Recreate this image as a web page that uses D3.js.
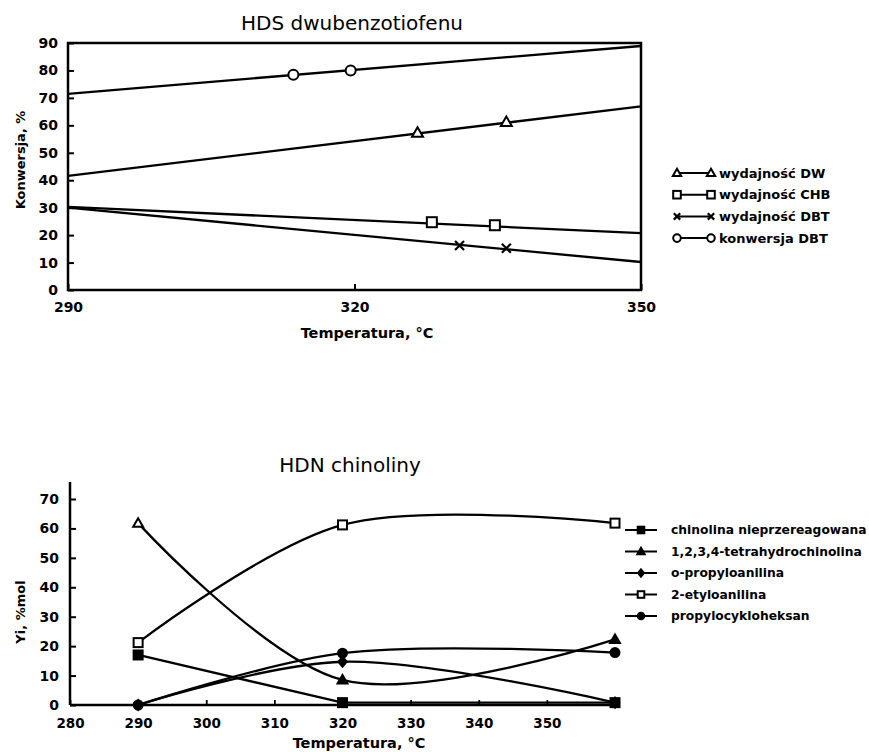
<!DOCTYPE html>
<html><head><meta charset="utf-8">
<script src="https://cdn.jsdelivr.net/npm/d3@7"></script>
<style>
body{margin:0;background:#fff}
svg{display:block}
text{font-family:"DejaVu Sans",sans-serif;fill:#000}
</style></head>
<body>
<svg id="c" width="869" height="752"></svg>
<script>
// ---------- DATA: HDS dwubenzotiofenu ----------
const hdsTitle = "HDS dwubenzotiofenu";
const hdsXTicks = [290, 320, 350];
const hdsYTicks = [0, 10, 20, 30, 40, 50, 60, 70, 80, 90];
const hdsLineTemps = [290, 350];
const dwLine = [41.6, 66.9];
const dwTemps = [326.6, 335.9];
const dwValues = [57.3, 61.2];
const chbLine = [30.3, 20.7];
const chbTemps = [328.1, 334.7];
const chbValues = [24.7, 23.6];
const dbtLine = [30.0, 10.2];
const dbtTemps = [331.0, 335.9];
const dbtValues = [16.2, 15.2];
const convLine = [71.5, 88.9];
const convTemps = [313.6, 319.6];
const convValues = [78.4, 80.0];
const hdsLegend = ["wydajność DW", "wydajność CHB", "wydajność DBT", "konwersja DBT"];

// ---------- DATA: HDN chinoliny ----------
const hdnTitle = "HDN chinoliny";
const hdnXTicks = [280, 290, 300, 310, 320, 330, 340, 350];
const hdnYTicks = [0, 10, 20, 30, 40, 50, 60, 70];
const hdnTemps = [290, 320, 360];
const chinolina = [17.0, 0.8, 0.8];
const tetrahydro = [61.8, 8.5, 22.3];
const propyloanilina = [0.0, 14.7, 0.8];
const etyloanilina = [21.2, 61.2, 61.8];
const propylocykloheksan = [0.0, 17.6, 17.8];
const hdnLegend = ["chinolina nieprzereagowana", "1,2,3,4-tetrahydrochinolina", "o-propyloanilina", "2-etyloanilina", "propylocykloheksan"];

const svg = d3.select("#c");

function marker(g, type, x, y, s, filled) {
  const fill = filled ? "#000" : "#fff";
  if (type === "circle") {
    g.append("circle").attr("cx", x).attr("cy", y).attr("r", s).attr("fill", fill).attr("stroke", "#000").attr("stroke-width", 2);
  } else if (type === "square") {
    g.append("rect").attr("x", x - s).attr("y", y - s).attr("width", 2 * s).attr("height", 2 * s).attr("fill", fill).attr("stroke", "#000").attr("stroke-width", 2);
  } else if (type === "triangle") {
    g.append("path").attr("d", `M${x},${y - s * 1.1}L${x + s * 1.1},${y + s * 0.8}L${x - s * 1.1},${y + s * 0.8}Z`).attr("fill", fill).attr("stroke", "#000").attr("stroke-width", 2);
  } else if (type === "diamond") {
    g.append("path").attr("d", `M${x},${y - s * 1.2}L${x + s},${y}L${x},${y + s * 1.2}L${x - s},${y}Z`).attr("fill", fill).attr("stroke", "#000").attr("stroke-width", 1.5);
  } else if (type === "x") {
    g.append("path").attr("d", `M${x - s},${y - s}L${x + s},${y + s}M${x - s},${y + s}L${x + s},${y - s}`).attr("stroke", "#000").attr("stroke-width", 2.2);
  }
}

// ================= TOP CHART =================
const xT = d3.scaleLinear().domain([290, 350]).range([68, 641]);
const yT = d3.scaleLinear().domain([0, 90]).range([290, 43]);
const gT = svg.append("g");

gT.append("text").attr("x", 352).attr("y", 30).attr("text-anchor", "middle").style("font-size", "20px").text(hdsTitle);

gT.append("rect").attr("x", xT(290)).attr("y", yT(90)).attr("width", xT(350) - xT(290)).attr("height", yT(0) - yT(90))
  .attr("fill", "none").attr("stroke", "#000").attr("stroke-width", 2.5);

const yAxT = gT.append("g").attr("transform", `translate(${xT(290)},0)`)
  .call(d3.axisLeft(yT).tickValues(hdsYTicks).tickSize(-6).tickPadding(10).tickFormat(d3.format("d")));
yAxT.select(".domain").remove();
yAxT.selectAll("line").attr("stroke-width", 2);
yAxT.selectAll("text").style("font-size", "14px").style("font-weight", "bold").style("font-family", "DejaVu Sans");

const xAxT = gT.append("g").attr("transform", `translate(0,${yT(0)})`)
  .call(d3.axisBottom(xT).tickValues(hdsXTicks).tickSize(-6).tickPadding(12).tickFormat(d3.format("d")));
xAxT.select(".domain").remove();
xAxT.selectAll("line").attr("stroke-width", 2);
xAxT.selectAll("text").style("font-size", "14px").style("font-weight", "bold").style("font-family", "DejaVu Sans");

gT.append("text").attr("x", 367).attr("y", 338).attr("text-anchor", "middle").style("font-size", "14.5px").style("font-weight", "bold").text("Temperatura, °C");
gT.append("text").attr("transform", "translate(25,160) rotate(-90)").attr("text-anchor", "middle").style("font-size", "13px").style("font-weight", "bold").text("Konwersja, %");

const hdsSeries = [
  { line: dwLine, temps: dwTemps, vals: dwValues, m: "triangle" },
  { line: chbLine, temps: chbTemps, vals: chbValues, m: "square" },
  { line: dbtLine, temps: dbtTemps, vals: dbtValues, m: "x" },
  { line: convLine, temps: convTemps, vals: convValues, m: "circle" }
];
const lineT = d3.line().x(d => xT(d[0])).y(d => yT(d[1]));
hdsSeries.forEach(s => {
  gT.append("path").attr("d", lineT(hdsLineTemps.map((t, i) => [t, s.line[i]])))
    .attr("fill", "none").attr("stroke", "#000").attr("stroke-width", 2.3);
});
hdsSeries.forEach(s => {
  s.temps.forEach((t, i) => marker(gT, s.m, xT(t), yT(s.vals[i]), s.m === "x" ? 4.5 : 5, false));
});

hdsLegend.forEach((name, i) => {
  const y = 173 + i * 21.7;
  const g = gT.append("g");
  g.append("line").attr("x1", 677).attr("x2", 711).attr("y1", y).attr("y2", y).attr("stroke", "#000").attr("stroke-width", 2);
  const m = hdsSeries[i].m;
  marker(g, m, 677, y, m === "x" ? 3.2 : 3.8, false);
  marker(g, m, 711, y, m === "x" ? 3.2 : 3.8, false);
  g.append("text").attr("x", 719).attr("y", y + 4.5).style("font-size", "13px").style("font-weight", "bold").text(name);
});

// ================= BOTTOM CHART =================
const xB = d3.scaleLinear().domain([280, 360]).range([70, 615]);
const yB = d3.scaleLinear().domain([0, 70]).range([705, 499]);
const gB = svg.append("g");

gB.append("text").attr("x", 350).attr("y", 472).attr("text-anchor", "middle").style("font-size", "20px").text(hdnTitle);

gB.append("line").attr("x1", xB(280)).attr("x2", xB(280)).attr("y1", yB(0)).attr("y2", yB(75.8)).attr("stroke", "#000").attr("stroke-width", 2.5);
gB.append("line").attr("x1", xB(280)).attr("x2", xB(360)).attr("y1", yB(0)).attr("y2", yB(0)).attr("stroke", "#000").attr("stroke-width", 2.5);

const yAxB = gB.append("g").attr("transform", `translate(${xB(280)},0)`)
  .call(d3.axisLeft(yB).tickValues(hdnYTicks).tickSize(-6).tickPadding(11).tickFormat(d3.format("d")));
yAxB.select(".domain").remove();
yAxB.selectAll("line").attr("stroke-width", 2);
yAxB.selectAll("text").style("font-size", "14px").style("font-weight", "bold").style("font-family", "DejaVu Sans");

const xAxB = gB.append("g").attr("transform", `translate(0,${yB(0)})`)
  .call(d3.axisBottom(xB).tickValues(hdnXTicks).tickSize(-5).tickPadding(13).tickFormat(d3.format("d")));
xAxB.select(".domain").remove();
xAxB.selectAll("line").attr("stroke-width", 1.8);
xAxB.selectAll("text").style("font-size", "13.5px").style("font-weight", "bold").style("font-family", "DejaVu Sans");

gB.append("text").attr("x", 359).attr("y", 748).attr("text-anchor", "middle").style("font-size", "14.5px").style("font-weight", "bold").text("Temperatura, °C");
gB.append("text").attr("transform", "translate(25,612) rotate(-90)").attr("text-anchor", "middle").style("font-size", "13px").style("font-weight", "bold").text("Yi, %mol");

const hdnSeries = [
  { vals: propyloanilina, m: "diamond", filled: true, curve: d3.curveCatmullRom },
  { vals: chinolina, m: "square", filled: true, curve: d3.curveLinear },
  { vals: tetrahydro, m: "triangle", filled: true, curve: d3.curveCatmullRom },
  { vals: etyloanilina, m: "square", filled: false, curve: d3.curveCatmullRom },
  { vals: propylocykloheksan, m: "circle", filled: true, curve: d3.curveCatmullRom }
];
hdnSeries.forEach(s => {
  const ln = d3.line().x(d => xB(d[0])).y(d => yB(d[1])).curve(s.curve);
  gB.append("path").attr("d", ln(hdnTemps.map((t, i) => [t, s.vals[i]])))
    .attr("fill", "none").attr("stroke", "#000").attr("stroke-width", 2.3);
});
hdnSeries.forEach(s => {
  hdnTemps.forEach((t, i) => {
    const filled = s.filled && !(s.m === "triangle" && i === 0);
    marker(gB, s.m, xB(t), yB(s.vals[i]), 4.5, filled);
  });
});

const legMarks = [
  { m: "square", filled: true },
  { m: "triangle", filled: true },
  { m: "diamond", filled: true },
  { m: "square", filled: false },
  { m: "circle", filled: true }
];
hdnLegend.forEach((name, i) => {
  const y = 530 + i * 21.5;
  const g = gB.append("g");
  g.append("line").attr("x1", 625).attr("x2", 657).attr("y1", y).attr("y2", y).attr("stroke", "#000").attr("stroke-width", 2);
  marker(g, legMarks[i].m, 641, y, 3.3, legMarks[i].filled);
  g.append("text").attr("x", 671).attr("y", y + 4).style("font-size", "12.3px").style("font-weight", "bold").text(name);
});
</script>
</body></html>
